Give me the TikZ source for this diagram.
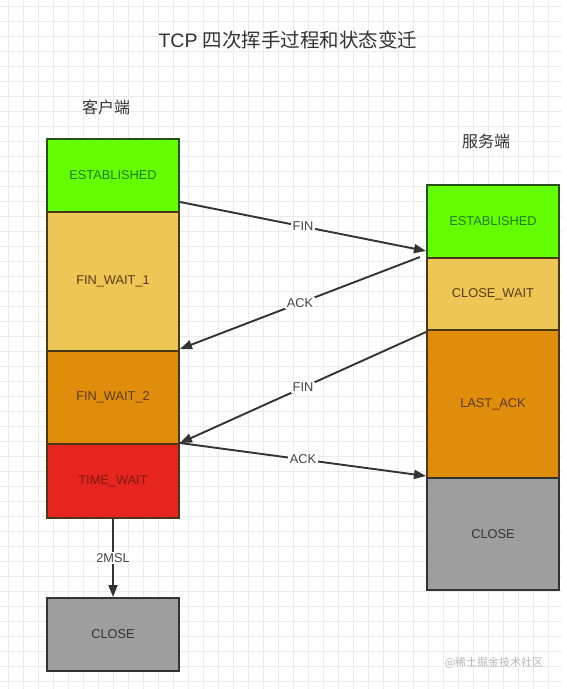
\documentclass[tikz,border=0pt]{standalone}
\usepackage{fontspec}
\setmainfont{Liberation Sans}
\newfontfamily\cjk{Noto Sans CJK SC}
\usetikzlibrary{arrows.meta}
\definecolor{gridc}{HTML}{EBEBEB}
\definecolor{greenf}{HTML}{63FF00}
\definecolor{greend}{HTML}{27531A}
\definecolor{greent}{HTML}{217A1C}
\definecolor{yellowf}{HTML}{EDC655}
\definecolor{orangef}{HTML}{E08D0C}
\definecolor{redf}{HTML}{E6251F}
\definecolor{grayf}{HTML}{9E9E9E}
\definecolor{brownd}{HTML}{4A3718}
\definecolor{brownt}{HTML}{5A3A10}
\definecolor{redt}{HTML}{7E1A12}
\definecolor{darkg}{HTML}{333333}
\definecolor{labelc}{HTML}{444444}
\tikzset{
  statebox/.style={draw, line width=2pt, anchor=north west, inner sep=0pt,
    minimum width=132pt, font=\fontsize{12.8}{14}\selectfont},
  greenbox/.style={statebox, fill=greenf, draw=greend, text=greent},
  yellowbox/.style={statebox, fill=yellowf, draw=brownd, text=brownt},
  orangebox/.style={statebox, fill=orangef, draw=brownd, text=brownt},
  redbox/.style={statebox, fill=redf, draw=brownd, text=redt},
  graybox/.style={statebox, fill=grayf, draw=darkg, text=darkg},
  msg/.style={draw=darkg, line width=1.9pt, -{Triangle[length=12pt,width=9pt]}},
  msglabel/.style={fill=white, inner sep=1.5pt, text=labelc, font=\fontsize{12.8}{14}\selectfont},
  heading/.style={text=darkg, font=\cjk\fontsize{16}{18}\selectfont},
}
\begin{document}
\begin{tikzpicture}[x=1pt,y=-1pt]
\fill[white] (0,0) rectangle (566,689);
\useasboundingbox (0,0) rectangle (566,689);
\begin{scope}
\clip (0,0) rectangle (562,689);
\foreach \gx in {8.3,23.3,...,566} \draw[gridc, line width=0.5pt] (\gx,0) -- (\gx,689);
\foreach \gy in {6.7,21.7,...,689} \draw[gridc, line width=0.5pt] (0,\gy) -- (562,\gy);
\end{scope}

\node[text=darkg, font=\fontsize{19.5}{22}\selectfont] (title) at (288,40) {TCP {\cjk 四次挥手过程和状态变迁}};
\node[heading] (client) at (106,107) {客户端};
\node[heading] (server) at (486,141) {服务端};

% client column
\node[greenbox, minimum height=73pt] (est1) at (46,138) {ESTABLISHED};
\node[yellowbox, minimum height=139pt] (fw1) at (46,211) {FIN\_WAIT\_1};
\node[orangebox, minimum height=93pt] (fw2) at (46,350) {FIN\_WAIT\_2};
\node[redbox, minimum height=74pt] (tw) at (46,443) {TIME\_WAIT};
\node[graybox, minimum height=73pt] (cl1) at (46,597) {CLOSE};

% server column
\node[greenbox, minimum height=73pt] (est2) at (426,184) {ESTABLISHED};
\node[yellowbox, minimum height=72pt] (cw) at (426,257) {CLOSE\_WAIT};
\node[orangebox, minimum height=148pt] (la) at (426,329) {LAST\_ACK};
\node[graybox, minimum height=112pt] (cl2) at (426,477) {CLOSE};

% messages
\draw[msg] ([yshift=11pt]est1.south east) -- node[msglabel] {FIN} ([yshift=8pt]est2.south west);
\draw[msg] ([xshift=-6pt]cw.north west) -- node[msglabel] {ACK} ([yshift=3pt]fw1.south east);
\draw[msg] ([yshift=-3pt]la.north west) -- node[msglabel] {FIN} (tw.north east);
\draw[msg] (tw.north east) -- node[msglabel] {ACK} ([yshift=1pt]cl2.north west);
\draw[msg] (tw.south) -- node[msglabel] {2MSL} (cl1.north);

\node[text=black!28, font=\cjk\fontsize{11}{13}\selectfont] (mark) at (494,663) {@稀土掘金技术社区};
\end{tikzpicture}
\end{document}
